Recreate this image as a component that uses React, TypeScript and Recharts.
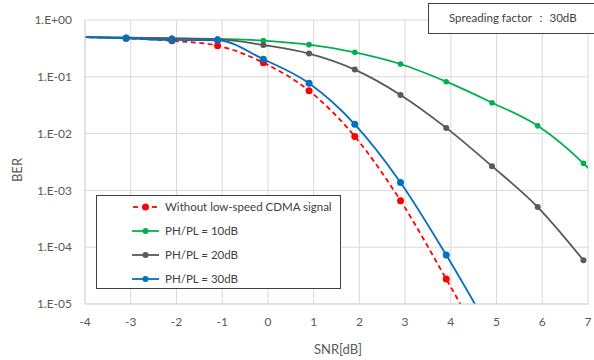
import React from 'react';
import { LineChart, Line, XAxis, YAxis, CartesianGrid, Legend, Label } from 'recharts';

const snr = [-4.1, -3.1, -2.1, -1.1, -0.1, 0.9, 1.9, 2.9, 3.9, 4.9, 5.9, 6.9, 7.9];
const xTicks = [-4, -3, -2, -1, 0, 1, 2, 3, 4, 5, 6, 7];
const yTicks = [1, 0.1, 0.01, 0.001, 0.0001, 0.00001];

const berWithout = [0.5, 0.475, 0.43, 0.353, 0.177, 0.057, 0.0089, 0.00066, 0.0000275, 0.000001];
const ber10 = [0.5, 0.49, 0.47, 0.464, 0.433, 0.368, 0.27, 0.168, 0.082, 0.035, 0.0137, 0.003, 0.0004];
const ber20 = [0.5, 0.49, 0.477, 0.46, 0.363, 0.256, 0.134, 0.048, 0.0126, 0.00267, 0.00051, 0.000059];
const ber30 = [0.5, 0.477, 0.445, 0.44, 0.204, 0.077, 0.0146, 0.00138, 0.0000727, 0.000003];

const names = ['Without low-speed CDMA signal', 'PH/PL = 10dB', 'PH/PL = 20dB', 'PH/PL = 30dB'];
const colors = ['#FF0000', '#00B050', '#595959', '#0070C0'];

const toPoints = (vals: number[]) => vals.map((y, i) => ({ x: snr[i], y }));

const FONT = 'Lato, "Open Sans", sans-serif';
const TEXT = '#595959';

const fmt = (v: number) => {
  const e = Math.round(Math.log10(v));
  return `1.E${e >= 0 ? '+' : '-'}${String(Math.abs(e)).padStart(2, '0')}`;
};

const renderLegend = () => (
  <div
    style={{
      position: 'relative',
      width: 245,
      height: 94,
      border: '1px solid #404040',
      background: '#fff',
      boxSizing: 'border-box',
      fontFamily: FONT,
      fontSize: 11.5,
      color: '#404040',
    }}
  >
    {names.map((n, i) => (
      <div key={n} style={{ position: 'absolute', left: 0, top: 11 + i * 24 - 8, height: 16, width: 243 }}>
        <svg width={30} height={16} style={{ position: 'absolute', left: 35, top: 0 }}>
          {i === 0 ? (
            <g>
              <line x1={1} y1={8} x2={6} y2={8} stroke={colors[i]} strokeWidth={1.8} />
              <line x1={20} y1={8} x2={25} y2={8} stroke={colors[i]} strokeWidth={1.8} />
            </g>
          ) : (
            <line x1={0} y1={8} x2={27} y2={8} stroke={colors[i]} strokeWidth={1.8} />
          )}
          <circle cx={13.5} cy={8} r={i === 0 ? 3.5 : 3} fill={colors[i]} />
        </svg>
        <span style={{ position: 'absolute', left: 68, top: 0, lineHeight: '16px', whiteSpace: 'nowrap' }}>{n}</span>
      </div>
    ))}
  </div>
);

export default function App() {
  const series = [berWithout, ber10, ber20, ber30];
  return (
    <div style={{ position: 'absolute', left: 0, top: 0, width: 594, height: 360, background: '#fff', overflow: 'hidden' }}>
      <LineChart width={594} height={360} margin={{ top: 20, right: 6, left: 0, bottom: 0 }}>
        <CartesianGrid stroke="#D9D9D9" strokeWidth={1} />
        <XAxis
          dataKey="x"
          type="number"
          domain={[-4, 7]}
          ticks={xTicks}
          allowDataOverflow
          height={56}
          axisLine={{ stroke: '#D9D9D9' }}
          tickLine={false}
          tickSize={0}
          tickMargin={13}
          tick={{ fill: TEXT, fontSize: 12, fontFamily: FONT }}
          interval={0}
        >
          <Label
            content={() => (
              <text x={338} y={349} textAnchor="middle" dominantBaseline="central" fill={TEXT} fontSize={13} fontFamily={FONT}>
                SNR[dB]
              </text>
            )}
          />
        </XAxis>
        <YAxis
          type="number"
          scale="log"
          domain={[0.00001, 1]}
          ticks={yTicks}
          allowDataOverflow
          width={85}
          axisLine={{ stroke: '#D9D9D9' }}
          tickLine={false}
          tickSize={0}
          tickMargin={13}
          tickFormatter={fmt}
          tick={{ fill: TEXT, fontSize: 12, fontFamily: FONT }}
          interval={0}
        >
          <Label
            content={() => (
              <text
                x={17}
                y={170}
                transform="rotate(-90 17 170)"
                textAnchor="middle"
                dominantBaseline="central"
                fill={TEXT}
                fontSize={13}
                fontFamily={FONT}
              >
                BER
              </text>
            )}
          />
        </YAxis>
        <Legend verticalAlign="middle" content={renderLegend} wrapperStyle={{ position: 'absolute', left: 96, top: 195, width: 245, height: 94 }} />
        {series.map((vals, i) => (
          <Line
            key={names[i]}
            name={names[i]}
            data={toPoints(vals)}
            dataKey="y"
            type="monotone"
            stroke={colors[i]}
            strokeWidth={1.8}
            strokeDasharray={i === 0 ? '5 3.5' : undefined}
            dot={{ r: i === 1 ? 2.8 : i === 2 ? 3 : 3.5, fill: colors[i], stroke: colors[i], strokeWidth: 0 }}
            isAnimationActive={false}
          />
        ))}
      </LineChart>
      <div
        style={{
          position: 'absolute',
          left: 428,
          top: 3,
          width: 166,
          height: 31,
          border: '1px solid #404040',
          borderRight: 'none',
          background: '#fff',
          boxSizing: 'border-box',
          fontFamily: FONT,
          fontSize: 11.5,
          color: '#404040',
          display: 'flex',
          alignItems: 'center',
          paddingLeft: 20,
          whiteSpace: 'nowrap',
        }}
      >
        Spreading factor ： 30dB
      </div>
    </div>
  );
}
